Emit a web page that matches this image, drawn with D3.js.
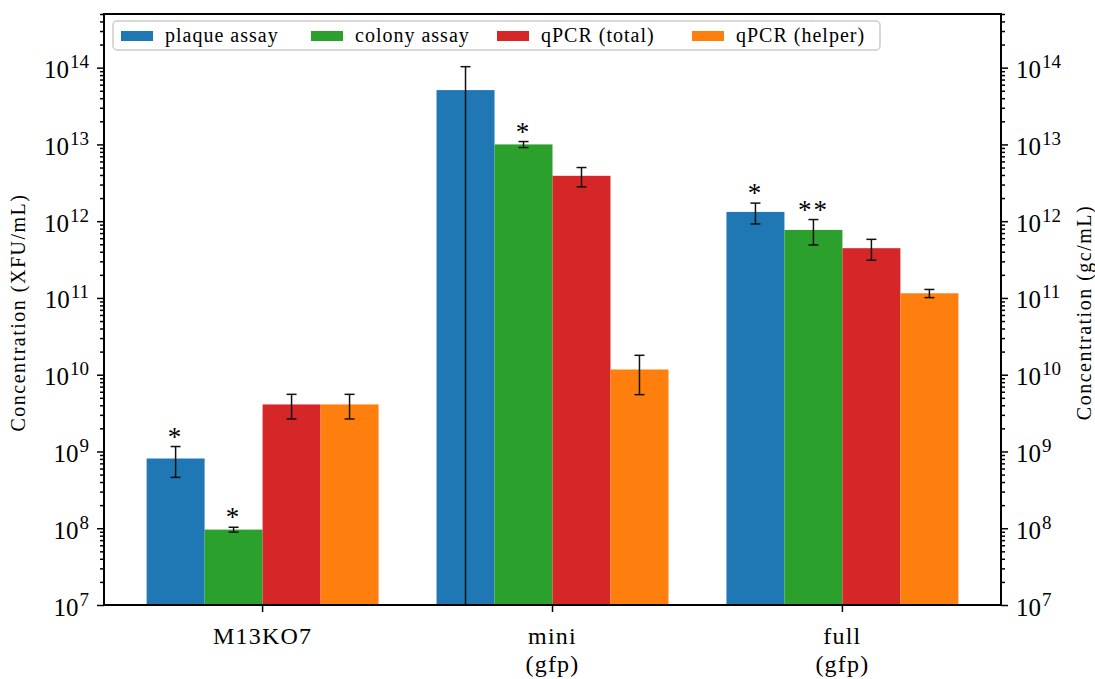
<!DOCTYPE html>
<html>
<head>
<meta charset="utf-8">
<script src="https://cdn.jsdelivr.net/npm/d3@7"></script>
<style>
  body { margin: 0; background: #fff; }
  svg, text { font-family: "Liberation Serif", "DejaVu Serif", serif; fill: #000; }
</style>
</head>
<body>
<svg id="chart" width="1095" height="679" font-family="Liberation Serif, serif"></svg>
<script>
// ---- data ----
const categories = ["M13KO7", "mini\n(gfp)", "full\n(gfp)"];
const seriesNames = ["plaque assay", "colony assay", "qPCR (total)", "qPCR (helper)"];
const seriesColors = ["#1f77b4", "#2ca02c", "#d62728", "#ff7f0e"];

const plaqueValues = [8.1e8, 5.1e13, 1.32e12];
const plaqueErrors = [3.5e8, 5.2e13, 4.0e11];
const colonyValues = [9.6e7, 1.0e13, 7.7e11];
const colonyErrors = [7e6, 9e11, 2.8e11];
const totalValues  = [4.1e9, 3.9e12, 4.45e11];
const totalErrors  = [1.45e9, 1.1e12, 1.35e11];
const helperValues = [4.1e9, 1.17e10, 1.15e11];
const helperErrors = [1.45e9, 6.2e9, 1.4e10];

const plaqueMarks = ["*", "", "*"];
const colonyMarks = ["*", "*", "**"];
const totalMarks  = ["", "", ""];
const helperMarks = ["", "", ""];

const majorTicks = [1e7, 1e8, 1e9, 1e10, 1e11, 1e12, 1e13, 1e14];
const yDomain = [1e7, 5e14];

// ---- table built from the arrays ----
const valueSets = [plaqueValues, colonyValues, totalValues, helperValues];
const errorSets = [plaqueErrors, colonyErrors, totalErrors, helperErrors];
const markSets  = [plaqueMarks, colonyMarks, totalMarks, helperMarks];
const bars = [];
categories.forEach((c, i) => {
  seriesNames.forEach((s, j) => {
    bars.push({ cat: c, series: s, color: seriesColors[j],
      value: valueSets[j][i], err: errorSets[j][i], mark: markSets[j][i] });
  });
});

// ---- layout ----
const svg = d3.select("#chart");
const plotLeft = 104, plotRight = 1001, plotTop = 14, plotBottom = 605;

const x0 = d3.scaleBand().domain(categories).range([plotLeft, plotRight])
  .paddingInner(0.2).paddingOuter(0.147);
const x1 = d3.scaleBand().domain(seriesNames).range([0, x0.bandwidth()]);
const y = d3.scaleLog().domain(yDomain).range([plotBottom, plotTop]);

const clipY = v => (v <= yDomain[0] ? plotBottom : Math.max(plotTop, y(v)));

// bars
svg.append("g").selectAll("rect").data(bars).join("rect")
  .attr("x", d => x0(d.cat) + x1(d.series))
  .attr("y", d => y(d.value))
  .attr("width", x1.bandwidth())
  .attr("height", d => plotBottom - y(d.value))
  .attr("fill", d => d.color);

// error bars
const eb = svg.append("g").attr("stroke", "#111").attr("stroke-width", 1.5);
bars.forEach(d => {
  const cx = x0(d.cat) + x1(d.series) + x1.bandwidth() / 2;
  const yHi = clipY(d.value + d.err);
  const lo = d.value - d.err;
  const yLo = clipY(lo);
  eb.append("line").attr("x1", cx).attr("x2", cx).attr("y1", yHi).attr("y2", yLo);
  eb.append("line").attr("x1", cx - 5).attr("x2", cx + 5).attr("y1", yHi).attr("y2", yHi);
  if (lo > yDomain[0]) {
    eb.append("line").attr("x1", cx - 5).attr("x2", cx + 5).attr("y1", yLo).attr("y2", yLo);
  }
});

// significance marks
svg.append("g").selectAll("text").data(bars.filter(d => d.mark)).join("text")
  .attr("x", d => x0(d.cat) + x1(d.series) + x1.bandwidth() / 2)
  .attr("y", d => y(d.value + d.err) - 1)
  .attr("text-anchor", "middle")
  .attr("font-size", 27)
  .attr("letter-spacing", 2)
  .attr("fill", "#333")
  .text(d => d.mark);

// ---- axes ----
const minorTicks = [];
for (let e = 7; e <= 14; e++) {
  for (let m = 2; m <= 9; m++) {
    const v = m * Math.pow(10, e);
    if (v <= yDomain[1]) minorTicks.push(v);
  }
}

function powerLabel(sel) {
  sel.selectAll(".tick text").each(function (d) {
    const t = d3.select(this);
    const exp = Math.round(Math.log10(d));
    t.text(null).attr("font-size", 25).attr("fill", "#000");
    t.append("tspan").text("10");
    t.append("tspan").attr("font-size", 19).attr("dx", 1).attr("dy", -10).text(exp);
  });
}

function styleAxis(g) {
  g.attr("font-family", null);
  g.select(".domain").remove();
  g.selectAll(".tick line").attr("stroke", "#000").attr("stroke-width", 1.5);
}

// left
const gL = svg.append("g").attr("transform", `translate(${plotLeft},0)`);
gL.call(d3.axisLeft(y).tickValues(majorTicks).tickSize(7).tickPadding(8))
  .call(styleAxis).call(powerLabel);
const gLm = svg.append("g").attr("transform", `translate(${plotLeft},0)`);
gLm.call(d3.axisLeft(y).tickValues(minorTicks).tickSize(4).tickFormat(""))
  .call(styleAxis);
gL.selectAll(".tick text").attr("dy", "0.4em");

// right
const gR = svg.append("g").attr("transform", `translate(${plotRight},0)`);
gR.call(d3.axisRight(y).tickValues(majorTicks).tickSize(7).tickPadding(8))
  .call(styleAxis).call(powerLabel);
const gRm = svg.append("g").attr("transform", `translate(${plotRight},0)`);
gRm.call(d3.axisRight(y).tickValues(minorTicks).tickSize(4).tickFormat(""))
  .call(styleAxis);
gR.selectAll(".tick text").attr("dy", "0.4em");

// bottom: each line of a category label gets its own text element
const gB = svg.append("g").attr("transform", `translate(0,${plotBottom})`);
gB.call(d3.axisBottom(x0).tickSize(7).tickPadding(8)).call(styleAxis);
gB.selectAll(".tick").each(function (d) {
  const tick = d3.select(this);
  tick.select("text").remove();
  d.split("\n").forEach((ln, k) => {
    tick.append("text")
      .attr("x", 0).attr("y", 39 + k * 28)
      .attr("text-anchor", "middle")
      .attr("font-size", 24).attr("letter-spacing", 1.2)
      .attr("fill", "#000")
      .text(ln);
  });
});

// frame
svg.append("rect").attr("x", plotLeft).attr("y", plotTop)
  .attr("width", plotRight - plotLeft).attr("height", plotBottom - plotTop)
  .attr("fill", "none").attr("stroke", "#000").attr("stroke-width", 2);

// axis titles
svg.append("text")
  .attr("transform", `translate(25,${(plotTop + plotBottom) / 2 + 3}) rotate(-90)`)
  .attr("text-anchor", "middle").attr("font-size", 20).attr("letter-spacing", 1.5)
  .text("Concentration (XFU/mL)");
svg.append("text")
  .attr("transform", `translate(1091,${(plotTop + plotBottom) / 2 + 3}) rotate(-90)`)
  .attr("text-anchor", "middle").attr("font-size", 20).attr("letter-spacing", 1.5)
  .text("Concentration (gc/mL)");

// ---- legend ----
const legendX = [121, 311, 497, 692];
const lg = svg.append("g");
lg.append("rect").attr("x", 113).attr("y", 21).attr("width", 767).attr("height", 29)
  .attr("rx", 4).attr("fill", "rgba(255,255,255,0.8)")
  .attr("stroke", "#ccc").attr("stroke-width", 1.5);
seriesNames.forEach((s, j) => {
  lg.append("rect").attr("x", legendX[j]).attr("y", 31)
    .attr("width", 32).attr("height", 10).attr("fill", seriesColors[j]);
  lg.append("text").attr("x", legendX[j] + 44).attr("y", 42)
    .attr("font-size", 20).attr("letter-spacing", 1).text(s);
});
</script>
</body>
</html>
